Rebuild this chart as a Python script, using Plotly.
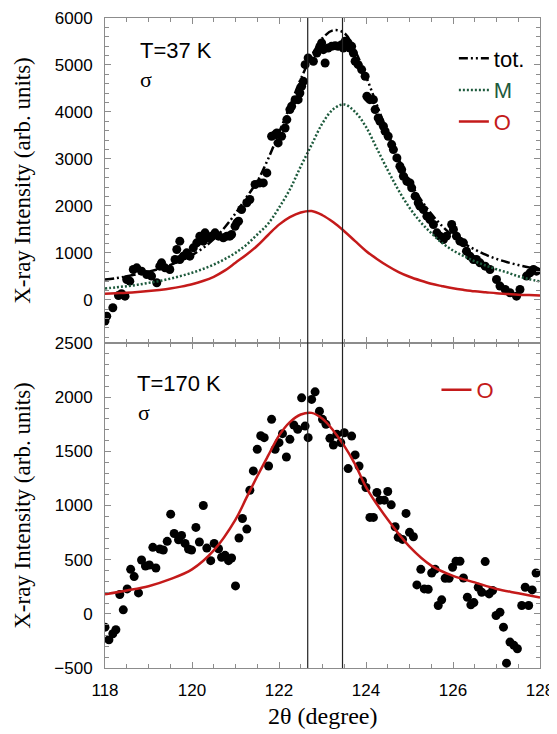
import plotly.graph_objects as go

# ---------------- data: top panel (T=37 K) ----------------
top_x = [118.00, 118.04, 118.18, 118.31, 118.38, 118.46, 118.50, 118.57, 118.65, 118.73,
         118.84, 118.96, 119.07, 119.19, 119.26, 119.30, 119.38, 119.49, 119.61, 119.72,
         119.80, 119.72, 119.65, 119.88, 119.95, 120.03, 120.11, 120.18, 120.26, 120.30,
         120.38, 120.45, 120.53, 120.61, 120.72, 120.80, 120.87, 120.91, 120.99, 121.03,
         121.07, 121.14, 121.26, 121.33, 121.45, 121.56, 121.64, 121.72, 121.83, 121.91,
         121.95, 121.98, 122.06, 122.14, 122.18, 122.25, 122.29, 122.37, 122.44, 122.48,
         122.52, 122.56,
         122.60, 122.67, 122.79, 122.87, 122.94, 122.98, 123.02, 123.06, 123.13, 123.21,
         123.29, 123.36, 123.44, 123.48, 123.52, 123.59, 123.63, 123.67, 123.71, 123.75,
         123.82, 123.90, 123.98, 124.02, 124.05, 124.09, 124.17, 124.21, 124.28, 124.32,
         124.40, 124.44, 124.51, 124.59, 124.63, 124.71, 124.78, 124.82, 124.86, 124.94,
         125.01, 125.05, 125.13, 125.20, 125.24, 125.32, 125.40, 125.47, 125.55, 125.63,
         125.70, 125.78, 125.85, 125.97, 126.01, 126.08, 126.16, 126.24, 126.31, 126.39,
         126.47, 126.54, 126.62, 126.74, 126.85, 127.00, 127.08, 127.20, 127.31, 127.46,
         127.54, 127.69, 127.77, 127.85, 127.92]
top_y = [-454, -348, -170, 92, 128, 78, 433, 397, 645, 681,
         610, 539, 504, 362, 716, 787, 681, 645, 858, 858,
         929, 1248, 1071, 1000, 929, 1106, 1213, 1355, 1248, 1425,
         1319, 1355, 1425, 1355, 1319, 1355, 1355, 1390, 1567, 1638,
         1674, 1922, 2064, 2135, 2454, 2489, 2489, 2702, 3482, 3518,
         3553, 3340, 3482, 3659, 3837, 4050, 4121, 4262, 4262, 4404,
         4546, 4652,
         5007, 5149, 5078, 5255, 5397, 5468, 5326, 5042, 5362, 5397,
         5411, 5397, 5433, 5362, 5503, 5468, 5362, 5397, 5255, 5078,
         5007, 4901, 4759, 4333, 4298, 4262, 4262, 4050, 3872, 3801,
         3695, 3589, 3482, 3305, 3198, 3021, 2844, 2773, 2631, 2525,
         2489, 2383, 2206, 2064, 1993, 1922, 1780, 1709, 1603, 1426,
         1355, 1284, 1355, 1603, 1496, 1355, 1248, 1213, 1035, 929,
         858, 858, 787, 716, 645, 433, 291, 220, 149, 78,
         220, 504, 574, 645, 610]

curve_x = [118, 118.25, 118.5, 118.75, 119, 119.25, 119.5, 119.75, 120, 120.25,
           120.5, 120.75, 121, 121.25, 121.5, 121.75, 122, 122.25, 122.5, 122.75,
           123, 123.25, 123.5, 123.75, 124, 124.25, 124.5, 124.75, 125, 125.25,
           125.5, 125.75, 126, 126.25, 126.5, 126.75, 127, 127.25, 127.5, 127.75, 128]
top_tot = [430, 460, 500, 550, 600, 660, 740, 840, 950, 1100,
           1290, 1540, 1840, 2180, 2520, 3000, 3560, 4120, 4700, 5190,
           5570, 5740, 5680, 5300, 4760, 4150, 3550, 3000, 2520, 2150,
           1830, 1570, 1360, 1200, 1070, 960, 870, 800, 740, 690, 650]
top_M = [240, 265, 290, 320, 360, 400, 450, 510, 575, 655,
         750, 865, 1000, 1170, 1390, 1620, 1960, 2350, 2840, 3300,
         3760, 4060, 4160, 4000, 3680, 3220, 2760, 2330, 1960, 1660,
         1420, 1210, 1050, 930, 820, 730, 650, 580, 500, 440, 390]
top_O = [130, 140, 150, 165, 185, 210, 240, 280, 330, 400,
         490, 620, 790, 960, 1150, 1380, 1600, 1760, 1860, 1890,
         1800, 1650, 1460, 1250, 1040, 870, 720, 590, 490, 410,
         340, 290, 245, 210, 180, 160, 140, 125, 110, 100, 90]

# ---------------- data: bottom panel (T=170 K) ----------------
bot_x = [118.00, 118.09, 118.18, 118.25, 118.34, 118.42, 118.51, 118.59, 118.67, 118.77,
         118.84, 118.93, 119.02, 119.10, 119.17, 119.26, 119.34, 119.43, 119.51, 119.59,
         119.69, 119.76, 119.84, 119.92, 119.99, 120.09, 120.17, 120.26, 120.34, 120.43,
         120.51, 120.61, 120.68, 120.76, 120.84, 120.91, 121.00, 121.08, 121.16, 121.26,
         121.33, 121.41, 121.50, 121.58, 121.66, 121.76, 121.83, 121.91, 122.00, 122.08,
         122.17, 122.25, 122.34, 122.43,
         122.52, 122.60, 122.67, 122.75, 122.83, 122.93, 123.00, 123.08, 123.17, 123.25,
         123.33, 123.42, 123.50, 123.59, 123.67, 123.75, 123.84, 123.92, 124.00, 124.09,
         124.17, 124.25, 124.32, 124.42, 124.50, 124.58, 124.67, 124.74, 124.84, 124.92,
         125.00, 125.09, 125.17, 125.26, 125.34, 125.43, 125.51, 125.59, 125.66, 125.74,
         125.82, 125.91, 125.99, 126.07, 126.16, 126.24, 126.33, 126.41, 126.48, 126.58,
         126.66, 126.74, 126.83, 126.91, 126.99, 127.08, 127.16, 127.23, 127.31, 127.40,
         127.48, 127.58, 127.66, 127.74, 127.82, 127.91]
bot_y = [-123, -239, -184, -147, 178, 37, 230, 411, 344, 193,
         497, 442, 451, 614, 423, 598, 589, 669, 920, 742,
         684, 724, 650, 598, 589, 798, 663, 1000, 607, 491,
         650, 601, 522, 540, 491, 515, 258, 700, 880, 782,
         1141, 1319, 1519, 1644, 1626, 1365, 1795, 1519, 1580, 1663,
         1448, 1611, 1743, 1703,
         1994, 1733, 1626, 1979, 2049, 1871, 1795, 1749, 1620, 1558,
         1657, 1580, 1672, 1341, 1641, 1467, 1365, 1227, 1166, 890,
         890, 1120, 1049, 1049, 1129, 1006, 804, 706, 687, 927,
         752, 712, 267, 411, 230, 227, 377, 411, 77, 129,
         328, 328, 430, 485, 485, 331, 153, 83, 104, 245,
         199, 482, 184, 215, -15, 15, -123, -455, -261, -291,
         -322, 77, 245, 77, 221, 377]

bot_curve_x = [118, 118.5, 119, 119.5, 120, 120.5, 121, 121.25, 121.5, 121.75,
               122, 122.25, 122.5, 122.75, 123, 123.25, 123.5, 123.75, 124, 124.5,
               125, 125.5, 126, 126.5, 127, 127.5, 128]
bot_O = [180, 215, 255, 320, 410, 585, 870, 1070, 1270, 1460,
         1645, 1770, 1840, 1855, 1800, 1690, 1550, 1380, 1170, 870,
         620, 445, 350, 290, 230, 190, 150]

vlines = [122.66, 123.46]

# ---------------- styles ----------------
RED = "#c41a1a"
GREEN = "#1d5a3c"
AXC = "#8c8c8c"
SANS = "Liberation Sans, Arial, sans-serif"
SERIF = "Liberation Serif, Times New Roman, serif"

fig = go.Figure()

# top panel
fig.add_trace(go.Scatter(x=top_x, y=top_y, mode="markers", xaxis="x2", yaxis="y2",
                         marker=dict(color="black", size=9), showlegend=False))
fig.add_trace(go.Scatter(x=curve_x, y=top_tot, mode="lines", xaxis="x2", yaxis="y2",
                         line=dict(color="black", width=2.5, dash="9px,3px,2px,3px,2px,3px", shape="spline"),
                         name="tot.", legend="legend"))
fig.add_trace(go.Scatter(x=curve_x, y=top_M, mode="lines", xaxis="x2", yaxis="y2",
                         line=dict(color=GREEN, width=2.5, dash="2px,2px", shape="spline"),
                         name='<span style="color:%s">M</span>' % GREEN, legend="legend"))
fig.add_trace(go.Scatter(x=curve_x, y=top_O, mode="lines", xaxis="x2", yaxis="y2",
                         line=dict(color=RED, width=2.5, shape="spline"),
                         name='<span style="color:%s">O</span>' % RED, legend="legend"))

# bottom panel
fig.add_trace(go.Scatter(x=bot_x, y=bot_y, mode="markers", xaxis="x", yaxis="y",
                         marker=dict(color="black", size=9), showlegend=False))
fig.add_trace(go.Scatter(x=bot_curve_x, y=bot_O, mode="lines", xaxis="x", yaxis="y",
                         line=dict(color=RED, width=2.5, shape="spline"),
                         name='<span style="color:%s">O</span>' % RED, legend="legend2"))

for xv in vlines:
    fig.add_shape(type="line", xref="x", yref="paper", x0=xv, x1=xv, y0=0, y1=1,
                  line=dict(color="#222222", width=1.2))

xcommon = dict(range=[118, 128], tick0=118, dtick=2, ticks="inside", ticklen=6, tickcolor=AXC,
               showline=True, linecolor=AXC, linewidth=1, mirror="ticks", showgrid=False,
               zeroline=False, automargin=False,
               minor=dict(dtick=0.5, ticklen=4, tickcolor=AXC, ticks="inside"))
ycommon = dict(ticks="inside", ticklen=6, tickcolor=AXC, showline=True, linecolor=AXC,
               linewidth=1, mirror="ticks", showgrid=False, zeroline=False, automargin=False,
               tickfont=dict(family=SANS, size=17, color="black"), ticklabelstandoff=8,
               ticklabeloverflow="allow",
               title=dict(text="X-ray Intensity (arb. units)", font=dict(family=SERIF, size=23, color="black"),
                          standoff=17))

# page body adds an 8px offset, so the figure is sized 8px smaller
fig.update_layout(
    width=549, height=726,
    margin=dict(l=97, r=17, t=10, b=66),
    paper_bgcolor="white", plot_bgcolor="white",
    xaxis=dict(**xcommon, anchor="y", domain=[0, 1], ticklabeloverflow="allow",
               tickfont=dict(family=SANS, size=17, color="black"), ticklabelstandoff=7),
    xaxis2=dict(**xcommon, anchor="y2", domain=[0, 1], matches="x", showticklabels=False),
    yaxis=dict(**ycommon, anchor="x", domain=[0, 0.5], range=[-500, 2500], tick0=0, dtick=500,
               minor=dict(dtick=100, ticklen=4, tickcolor=AXC, ticks="inside")),
    yaxis2=dict(**ycommon, anchor="x2", domain=[0.5, 1], range=[-920, 6000], tick0=0, dtick=1000,
                minor=dict(dtick=200, ticklen=4, tickcolor=AXC, ticks="inside")),
    legend=dict(x=0.802, y=0.97, xanchor="left", yanchor="top", bgcolor="rgba(0,0,0,0)",
                font=dict(family=SANS, size=22, color="black"), tracegroupgap=0, itemwidth=30),
    legend2=dict(x=0.762, y=0.46, xanchor="left", yanchor="top", bgcolor="rgba(0,0,0,0)",
                 font=dict(family=SANS, size=22, color="black"), itemwidth=30),
    annotations=[
        dict(text="2θ (degree)", xref="paper", yref="paper", x=0.5, y=-0.074, xanchor="center",
             yanchor="middle", showarrow=False, font=dict(family=SERIF, size=24, color="black")),
        dict(text="T=37 K", xref="x2 domain", yref="y2 domain", x=0.075, y=0.9, xanchor="left",
             yanchor="middle", showarrow=False, font=dict(family=SANS, size=22, color="black")),
        dict(text="σ", xref="x2 domain", yref="y2 domain", x=0.077, y=0.81, xanchor="left",
             yanchor="middle", showarrow=False, font=dict(family=SERIF, size=22, color="black")),
        dict(text="T=170 K", xref="x domain", yref="y domain", x=0.07, y=0.876, xanchor="left",
             yanchor="middle", showarrow=False, font=dict(family=SANS, size=22, color="black")),
        dict(text="σ", xref="x domain", yref="y domain", x=0.072, y=0.786, xanchor="left",
             yanchor="middle", showarrow=False, font=dict(family=SERIF, size=22, color="black")),
    ],
)

fig.write_html("out.html")
